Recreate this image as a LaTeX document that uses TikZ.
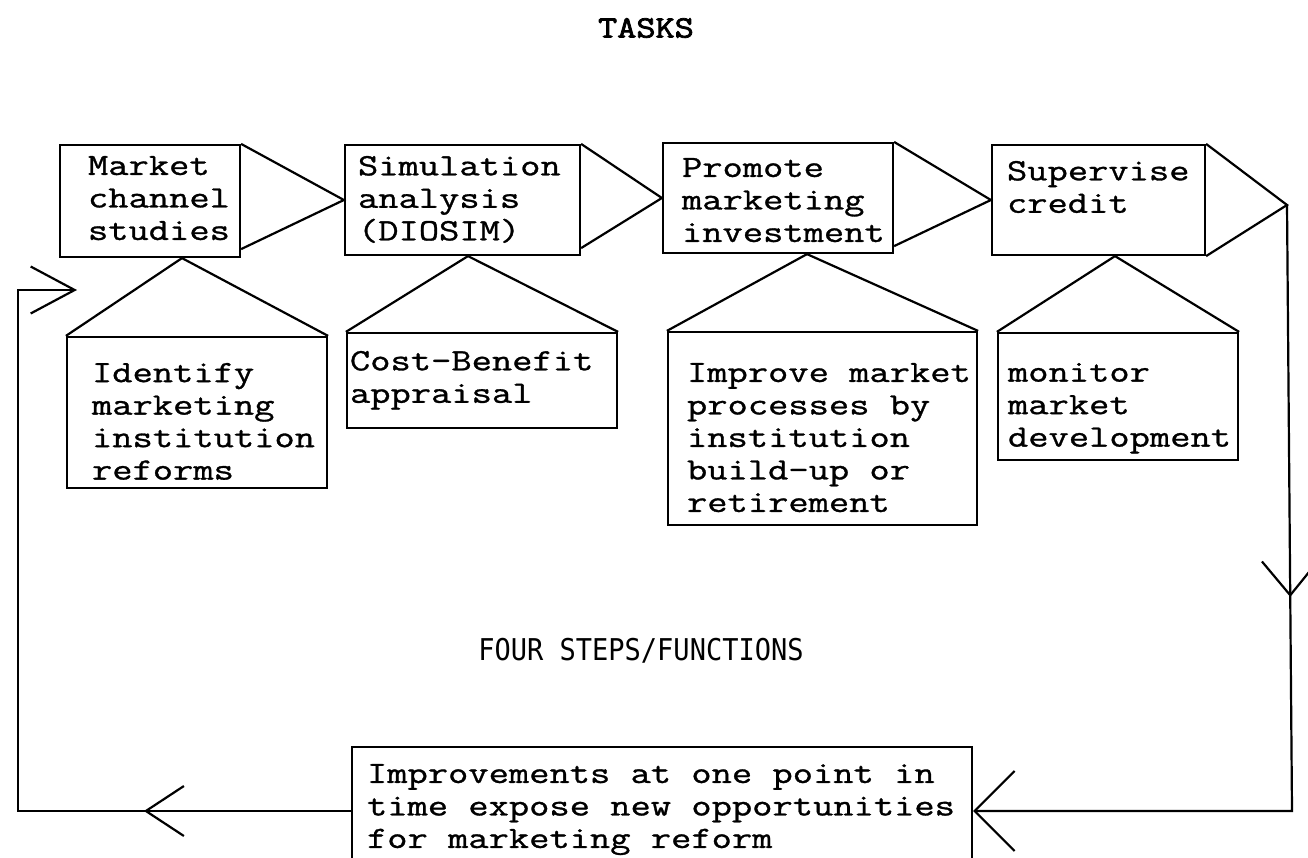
\documentclass[tikz,border=0pt]{standalone}
\usepackage{fontspec}
\usetikzlibrary{arrows.meta,decorations.markings}

\newfontfamily\typefont[FakeStretch=1.27,FakeBold=1]{Latin Modern Mono}
\newfontfamily\headfont[FakeStretch=1.2,FakeBold=2.5]{Latin Modern Mono}
\newfontfamily\stencilfont[FakeStretch=0.9]{DejaVu Sans Mono}

\newcommand*{\pagew}{1308}
\newcommand*{\pageh}{857}

\begin{document}
\begin{tikzpicture}
[
	x=1pt, y=-1pt,
	line width=2.2pt,
	frame/.style={draw, rectangle, inner sep=0pt},
	words/.style={anchor=north west, inner sep=0pt, align=left, font=\typefont\fontsize{31}{32.5}\selectfont},
]

	\path[use as bounding box, fill=white] (0,0) rectangle (\pagew,\pageh);

	% heading
	\node[font=\headfont\fontsize{31}{32}\selectfont] (tasks) at (646,28) {TASKS};

	% the four steps
	\node[frame, minimum width=180pt, minimum height=112pt] (market) at (150,201) {};
	\node[frame, minimum width=235pt, minimum height=110pt] (sim) at (462.5,200) {};
	\node[frame, minimum width=230pt, minimum height=110pt] (promote) at (778,198) {};
	\node[frame, minimum width=213pt, minimum height=110pt] (supervise) at (1098.5,200) {};

	\node[words] (marketText) at ([shift={(28,11)}]market.north west) {Market\\channel\\studies};
	\node[words] (simText) at ([shift={(13,11)}]sim.north west) {Simulation\\analysis\\(DIOSIM)};
	\node[words] (promoteText) at ([shift={(19,15)}]promote.north west) {Promote\\marketing\\investment};
	\node[words] (superviseText) at ([shift={(15,16)}]supervise.north west) {Supervise\\credit};

	% open arrows between the steps
	\draw (market.north east) -- (sim.west) -- ([yshift=9pt]market.south east);
	\draw (sim.north east) -- (promote.west) -- ([yshift=8pt]sim.south east);
	\draw (promote.north east) -- (supervise.west) -- ([yshift=8pt]promote.south east);
	\coordinate (turn) at (1287,205);
	\draw (supervise.north east) -- (turn) -- (supervise.south east);

	% functions under each step
	\node[frame, minimum width=260pt, minimum height=151pt] (ident) at (197,412.5) {};
	\node[frame, minimum width=270pt, minimum height=95pt] (cost) at (482,380.5) {};
	\node[frame, minimum width=309pt, minimum height=193pt] (improve) at (822.5,428.5) {};
	\node[frame, minimum width=240pt, minimum height=127pt] (monitor) at (1118,396.5) {};

	\node[words] (identText) at ([shift={(25,26)}]ident.north west) {Identify\\marketing\\institution\\reforms};
	\node[words] (costText) at ([shift={(3,18)}]cost.north west) {Cost-Benefit\\appraisal};
	\node[words] (improveText) at ([shift={(19,31)}]improve.north west) {Improve~market\\processes~by\\institution\\build-up~or\\retirement};
	\node[words] (monitorText) at ([shift={(10,30)}]monitor.north west) {monitor\\market\\development};

	\draw (ident.north west) -- ([xshift=32pt]market.south) -- (ident.north east);
	\draw (cost.north west) -- ([xshift=5.5pt]sim.south) -- (cost.north east);
	\draw (improve.north west) -- ([xshift=29pt]promote.south) -- (improve.north east);
	\draw (monitor.north west) -- ([xshift=16.5pt]supervise.south) -- (monitor.north east);

	\node[font=\stencilfont\fontsize{30}{32}\selectfont] (steps) at (641,651) {FOUR STEPS/FUNCTIONS};

	% feedback box, cut by the page edge
	\node[frame, minimum width=620pt, minimum height=128pt] (reform) at (662,811) {};
	\node[words] (reformText) at ([shift={(15,17)}]reform.north west) {Improvements~at~one~point~in\\time~expose~new~opportunities\\for~marketing~reform};

	% loop back
	\coordinate (rightfoot) at (1292,811);
	\coordinate (leftfoot) at (18,811);
	\coordinate (lefttop) at (18,290);
	\coordinate (entry) at (77,290);

	\draw[-{Straight Barb[length=40pt,width=80pt]},
		postaction={decorate, decoration={markings, mark=at position 392pt with {\arrow{Straight Barb[length=34pt,width=56pt]}}}}]
		(turn) -- (rightfoot) -- (reform.east);
	\draw[-{Straight Barb[length=44pt,width=47pt]},
		postaction={decorate, decoration={markings, mark=at position 207pt with {\arrow{Straight Barb[length=38pt,width=50pt]}}}}]
		(reform.west) -- (leftfoot) -- (lefttop) -- (entry);

\end{tikzpicture}
\end{document}
